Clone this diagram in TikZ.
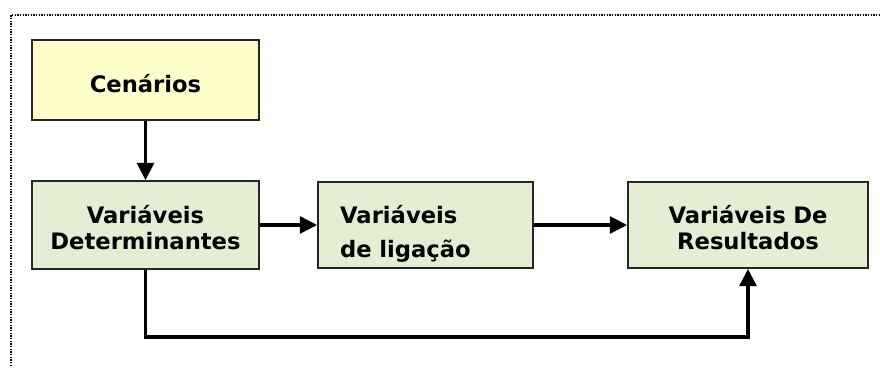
\documentclass[tikz,border=0pt]{standalone}
\usepackage{fontspec}
\setmainfont{DejaVu Sans}
\usetikzlibrary{arrows.meta}

\definecolor{amarelo}{RGB}{255,255,204}
\definecolor{verde}{RGB}{227,238,211}

\begin{document}
\begin{tikzpicture}[x=0.75pt, y=-0.75pt,
    caixa/.style={draw=black!85, line width=1.2pt, fill=verde, inner sep=0pt,
      font=\fontsize{17}{20}\selectfont\bfseries, align=center,
      text height=13pt, text depth=16pt},
    seta/.style={line width=2.9pt, -{Triangle[length=13pt, width=12.5pt]}}]
    \useasboundingbox (0,0) rectangle (880,367);

    % Moldura pontilhada (topo e lado esquerdo).
    \draw[line width=1.3pt, dash pattern=on 1pt off 1pt] (880,15) -- (11,15) -- (11,367);

    % Caixas.
    \node[caixa, fill=amarelo, minimum width=170.25pt, minimum height=60pt,
      text height=19.5pt, text depth=0pt] (cen) at (145.5,80) {Cenários};
    \node[caixa, minimum width=170.25pt, minimum height=66pt, text width=170pt]
      (det) at (145.5,225) {Variáveis\\Determinantes};
    \node[caixa, minimum width=161.25pt, minimum height=64.5pt, align=left,
      inner xsep=16.5pt, text width=128pt,
      font=\fontsize{17}{25.5}\selectfont\bfseries] (lig) at (425.5,225)
      {Variáveis\\de ligação};
    \node[caixa, minimum width=180pt, minimum height=64.5pt, text width=180pt]
      (res) at (748,225) {Variáveis De\\Resultados};

    % Setas.
    \draw[seta] (cen) -- (det);
    \draw[seta] (det) -- (lig);
    \draw[seta] (lig) -- (res);

    % Ligação direta por baixo.
    \coordinate (baixo) at (145.5,337);
    \draw[seta] (det.south) -- (det.south |- baixo) -| (res.south);
\end{tikzpicture}
\end{document}
